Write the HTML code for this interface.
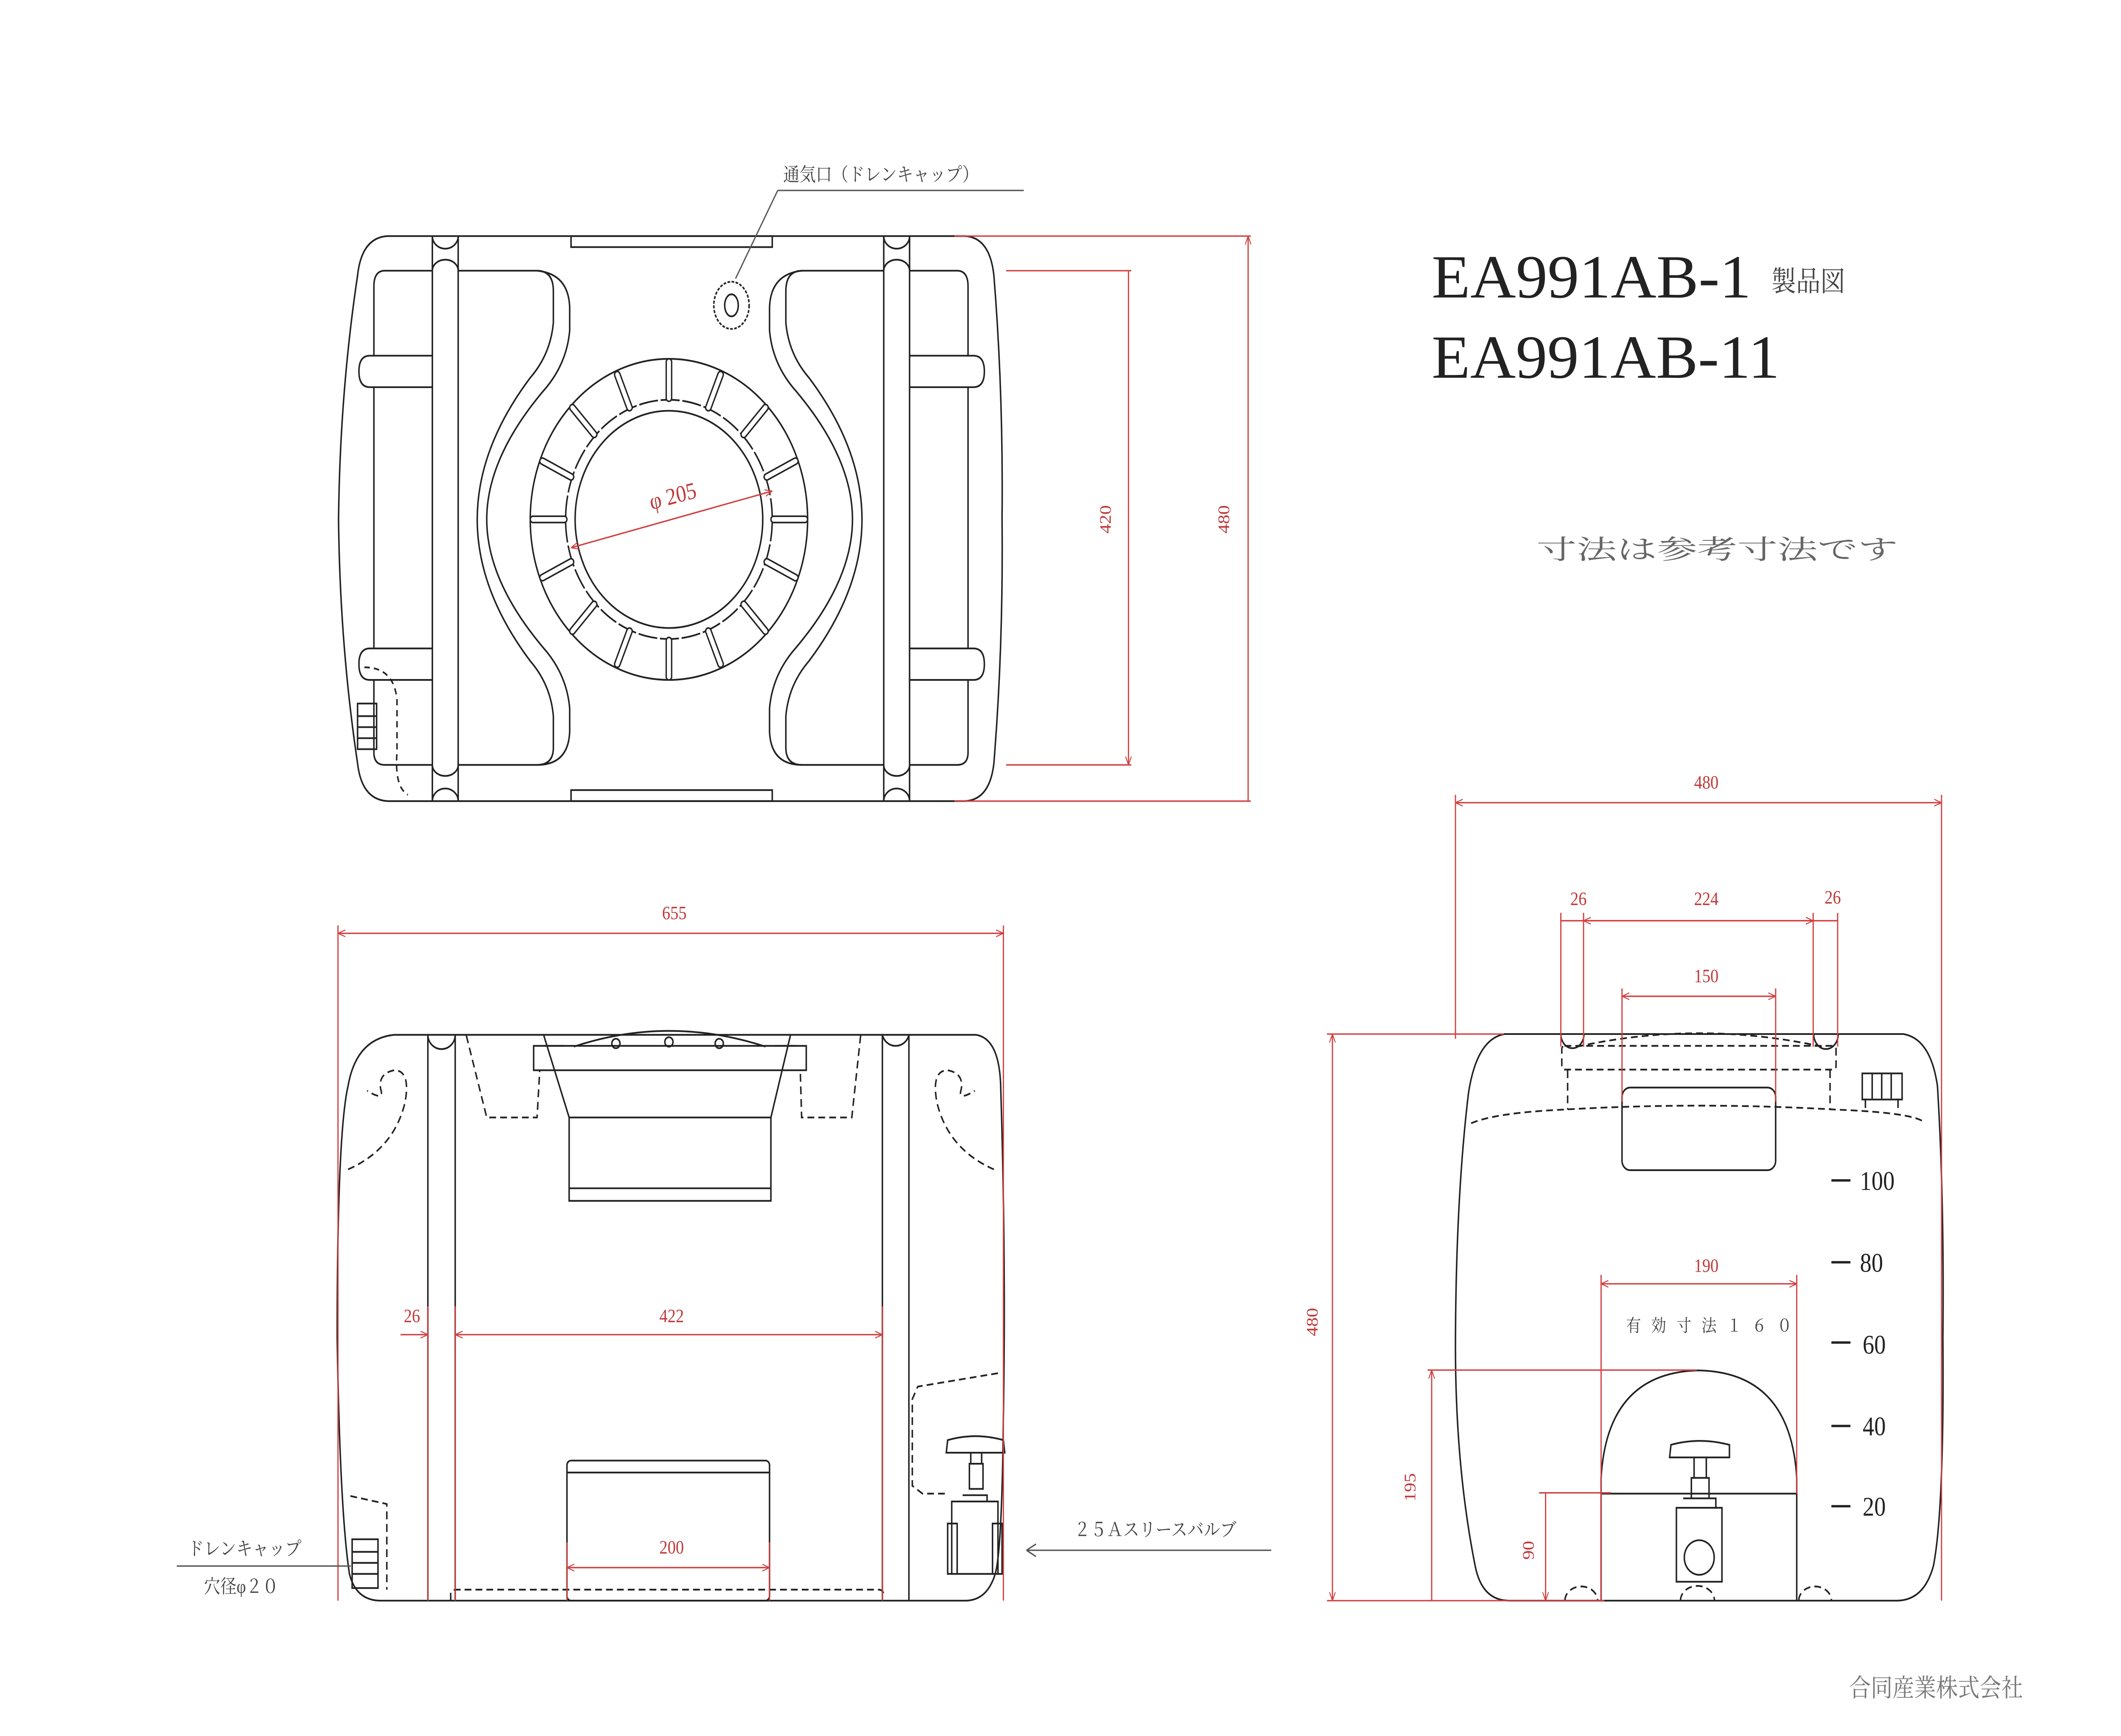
<!DOCTYPE html>
<html><head><meta charset="utf-8"><style>
html,body{margin:0;padding:0;background:#fff;overflow:hidden;width:100%;height:100%;}
svg{display:block;width:100vw;height:100vh;}
text{font-family:"Liberation Serif","Noto Serif CJK JP","Noto Sans CJK JP",serif;}
</style></head><body>
<svg viewBox="0 0 1560 1103" preserveAspectRatio="none" xmlns="http://www.w3.org/2000/svg">
<defs>
<marker id="a" viewBox="0 0 10 10" refX="10" refY="5" markerWidth="6" markerHeight="6" orient="auto-start-reverse"><path d="M0 1 L10 5 L0 9" fill="none" stroke="#d04040" stroke-width="1.2"/></marker>
</defs>
<rect width="1560" height="1103" fill="#fff"/>
<g fill="none" stroke="#222" stroke-width="1.1">
<!-- TOP VIEW -->
<path d="M285 150 H710 Q728 151 731 175 Q738 250 737 330 Q738 410 731 485 Q728 508 710 509 H285 Q266 508 263 485 Q250 410 249 330 Q250 250 263 175 Q266 151 285 150 Z"/>
<path d="M318 150 V509 M337 150 V509 M650 150 V509 M669 150 V509"/>
<path d="M318 150 A9.5 8 0 0 0 337 150 M318 509 A9.5 8 0 0 1 337 509 M650 150 A9.5 8 0 0 0 669 150 M650 509 A9.5 8 0 0 1 669 509"/>
<path d="M318 172 A9.5 7 0 0 1 337 172 M318 486 A9.5 7 0 0 0 337 486 M650 172 A9.5 7 0 0 1 669 172 M650 486 A9.5 7 0 0 0 669 486"/>
<rect x="420" y="150" width="148" height="7"/><rect x="420" y="502" width="148" height="7"/>
<path d="M318 172 H283 Q275 172 275 182 V226 H272 Q264 226 264 236 Q264 246 272 246 H275 V412 H272 Q264 412 264 422 Q264 432 272 432 H275 V478 Q275 486 283 486 H318"/>
<path d="M318 226 H275 M318 246 H275 M318 412 H275 M318 432 H275"/>
<path d="M669 172 H704 Q712 172 712 182 V226 H716 Q724 226 724 236 Q724 246 716 246 H712 V412 H716 Q724 412 724 422 Q724 432 716 432 H712 V478 Q712 486 704 486 H669"/>
<path d="M669 226 H712 M669 246 H712 M669 412 H712 M669 432 H712"/>
<path d="M337 172 H395 Q407 172 407 185 V205 Q405 225 390 240 Q351 285 351 330 Q351 375 390 420 Q405 435 407 455 V475 Q407 486 395 486 H337"/>
<path d="M395 172 Q418 174 419 195 V210 Q417 230 402 246 Q358 290 358 330 Q358 370 402 414 Q417 430 419 450 V465 Q418 486 395 486"/>
<path d="M650 172 H590 Q578 172 578 185 V205 Q580 225 595 240 Q634 285 634 330 Q634 375 595 420 Q580 435 578 455 V475 Q578 486 590 486 H650"/>
<path d="M590 172 Q567 174 566 195 V210 Q568 230 583 246 Q627 290 627 330 Q627 370 583 414 Q568 430 566 450 V465 Q567 486 590 486"/>
<circle cx="492" cy="330" r="102"/><circle cx="492" cy="330" r="69"/>
<circle cx="492" cy="330" r="76" stroke-dasharray="14,2"/>
<g stroke-width="5" stroke-linecap="round" stroke="#222">
<line x1="492" y1="230" x2="492" y2="253" /><line x1="492" y1="407" x2="492" y2="430"/>
<line x1="392" y1="330" x2="415" y2="330"/><line x1="569" y1="330" x2="592" y2="330"/>
<line x1="530" y1="238" x2="521" y2="259"/><line x1="454" y1="238" x2="463" y2="259"/>
<line x1="530" y1="422" x2="521" y2="401"/><line x1="454" y1="422" x2="463" y2="401"/>
<line x1="563" y1="259" x2="547" y2="276"/><line x1="421" y1="259" x2="437" y2="276"/>
<line x1="563" y1="401" x2="547" y2="384"/><line x1="421" y1="401" x2="437" y2="384"/>
<line x1="585" y1="293" x2="564" y2="303"/><line x1="399" y1="293" x2="420" y2="303"/>
<line x1="585" y1="367" x2="564" y2="357"/><line x1="399" y1="367" x2="420" y2="357"/>
</g>
<g stroke="#fff" stroke-width="3" stroke-linecap="round">
<line x1="492" y1="230" x2="492" y2="253" /><line x1="492" y1="407" x2="492" y2="430"/>
<line x1="392" y1="330" x2="415" y2="330"/><line x1="569" y1="330" x2="592" y2="330"/>
<line x1="530" y1="238" x2="521" y2="259"/><line x1="454" y1="238" x2="463" y2="259"/>
<line x1="530" y1="422" x2="521" y2="401"/><line x1="454" y1="422" x2="463" y2="401"/>
<line x1="563" y1="259" x2="547" y2="276"/><line x1="421" y1="259" x2="437" y2="276"/>
<line x1="563" y1="401" x2="547" y2="384"/><line x1="421" y1="401" x2="437" y2="384"/>
<line x1="585" y1="293" x2="564" y2="303"/><line x1="399" y1="293" x2="420" y2="303"/>
<line x1="585" y1="367" x2="564" y2="357"/><line x1="399" y1="367" x2="420" y2="357"/>
</g>
<ellipse cx="538" cy="194" rx="13" ry="15" stroke-dasharray="2,1"/><ellipse cx="538" cy="194" rx="5" ry="7"/>
<rect x="263" y="447" width="14" height="29"/><path d="M263 455 H277 M263 462 H277 M263 469 H277"/>
<path stroke-dasharray="4,3" d="M268 424 Q290 424 292 445 V478 Q290 500 300 505"/>
<!-- FRONT VIEW -->
<path d="M290 657.5 H718 Q735 660 736 690 Q740 800 738 900 Q737 985 732 1000 Q726 1017 710 1017 H280 Q262 1017 257 1000 Q250 960 248 850 Q248 720 256 690 Q262 660 290 657.5 Z"/>
<path d="M314.7 657.5 V1017 M334.8 657.5 V1017 M649 657.5 V1017 M668.5 657.5 V1017"/>
<path d="M314.7 657.5 A10 9 0 0 0 334.8 657.5 M649 657.5 A10 9 0 0 0 668.5 657.5"/>
<rect x="392.5" y="664.5" width="200.5" height="15.5"/>
<path d="M400 658 L418.6 710 V763 H567 V710 L581.3 658 M418.6 755 H567 M418.6 710 H567"/>
<path d="M422 665 Q492 645 563 665 M400 664.5 H415 M570 664.5 H585"/>
<circle cx="453" cy="663" r="3"/><circle cx="492" cy="662" r="3"/><circle cx="529" cy="663" r="3"/>
<rect x="417" y="928" width="149" height="89" rx="3"/><path d="M417 935.6 H566"/>
<g stroke-dasharray="5,3">
<path d="M343 658 L358 710 H395 L397 680"/>
<path d="M633 658 L626.5 710 H589.6 L588.6 680"/>
<path d="M256 743 Q290 730 298 700 Q302 680 290 680 Q278 682 280 692 Q283 700 270 693"/>
<path d="M731 743 Q697 730 689 700 Q685 680 697 680 Q709 682 707 692 Q704 700 717 693"/>
<path d="M734 872.5 L675 881 L671 889 V944 L678.5 949 H697"/>
<path d="M257.7 950.5 L284.5 955.6 V1010"/>
<path d="M331.5 1017 V1012 Q332 1010 336 1010 H646 Q650 1010 650 1014"/>
</g>
<!-- valve front -->
<path d="M696 923 L697 915 Q717 910 738 915 L739 923 Z M714 923 V930 H722 V923 M713 930 H723 V946 H713 Z M700 954 H734 V1000 H700 Z M697 968 H704 V1000 H697 Z M730 968 H737 V1000 H730 Z M708 950 H726 V954"/>
<rect x="259" y="978" width="19" height="31"/><path d="M259 986 H278 M259 993 H278 M259 1000 H278"/>
<!-- SIDE VIEW -->
<path d="M1106.7 657 H1400 Q1420 660 1425 690 Q1430 760 1429 850 Q1430 960 1422 995 Q1415 1017 1395 1017 H1110 Q1090 1017 1085 995 Q1070 930 1070.5 850 Q1071 760 1080 695 Q1086 660 1106.7 657 Z"/>
<rect x="1193" y="691" width="113" height="52.5" rx="6"/>
<rect x="1369.7" y="682" width="29.3" height="16.6"/><path d="M1377 682 V698 M1384 682 V698 M1391 682 V698 M1372 698 V704 M1396 698 V704"/>
<path d="M1177.6 1017 V939 Q1182 872 1249.5 870.7 Q1317 872 1321.5 939 V1017 M1177.6 949 H1321.5"/>
<path d="M1228 926 L1229 918 Q1250 913 1272 918 L1272 926 Z M1246 926 V939 H1255 V926 M1244 939 H1257 V952 H1244 Z M1233 958 H1266.5 V1005 H1233 Z M1238 952 H1262 V958"/>
<circle cx="1249.8" cy="989.6" r="11"/>
<g stroke-dasharray="5,3">
<rect x="1148.7" y="664.5" width="201.7" height="15.1" rx="2"/>
<path d="M1153 680 V705 M1346 680 V705"/>
<path d="M1082 713.7 Q1100 707 1150 705 Q1250 700 1350 705 Q1410 707 1416 713.7"/>
<path d="M1160 665 Q1250 648 1340 665"/>
<path d="M1151 1017 A12 9 0 0 1 1175 1017 M1236 1017 A12 9 0 0 1 1261 1017 M1323 1017 A12 9 0 0 1 1347 1017"/>
</g>
<path d="M1148 657 A8.5 9 0 0 0 1165 657 M1334 657 A8.5 9 0 0 0 1352 657"/>
<path d="M1347 750 H1361 M1347 802 H1361 M1347 853 H1361 M1347 906 H1361 M1347 957 H1361" stroke-width="1.5"/>
</g>
<!-- red dimension lines -->
<g stroke="#d04040" stroke-width="0.9" fill="none">
<path d="M702 150 H920 M702 509 H920 M740 172 H832 M740 486 H832"/>
<path d="M918 150 V509 M830 172 V486" marker-start="url(#a)" marker-end="url(#a)"/>
<path d="M248.6 588 V1017 M738 588 V1017"/>
<path d="M248.6 593 H738" marker-start="url(#a)" marker-end="url(#a)"/>
<path d="M294.6 848 H314.7" marker-end="url(#a)"/>
<path d="M334.8 848 H649" marker-start="url(#a)" marker-end="url(#a)"/>
<path d="M314.7 830 V1017 M334.8 830 V1017 M649 830 V1017 M417 980 V1017 M566 980 V1017"/>
<path d="M417 996 H566" marker-start="url(#a)" marker-end="url(#a)"/>
<path d="M420 348 L568 312" marker-start="url(#a)" marker-end="url(#a)"/>
<path d="M1070.5 505 V660 M1428 505 V1017"/>
<path d="M1070.5 510 H1428" marker-start="url(#a)" marker-end="url(#a)"/>
<path d="M1148 580 V665 M1164.7 580 V665 M1333.6 580 V665 M1351.6 580 V665 M1193 628 V700 M1306 628 V700"/>
<path d="M1148 585 H1351.6"/><path d="M1164.7 585 H1333.6" marker-start="url(#a)" marker-end="url(#a)"/>
<path d="M1193 633 H1306" marker-start="url(#a)" marker-end="url(#a)"/>
<path d="M976 657 H1106 M976 1017 H1180"/>
<path d="M980 657 V1017" marker-start="url(#a)" marker-end="url(#a)"/>
<path d="M1050 870.5 H1248 M1132 948.5 H1185"/>
<path d="M1053 870.5 V1017 M1136.8 948.5 V1017" marker-start="url(#a)" marker-end="url(#a)"/>
<path d="M1177.6 810 V1017 M1321.5 810 V949"/>
<path d="M1177.6 815.7 H1321.5" marker-start="url(#a)" marker-end="url(#a)"/>
</g>
<g stroke="#555" stroke-width="0.9" fill="none">
<path d="M572 121 H753 M572 121 L541 177"/>
<path d="M130 995 H245 L258 995"/>
<path d="M755 985 H935 M755 985 L762 981 M755 985 L762 989"/>
</g>
<!-- red text -->
<g fill="#c03838" font-size="12" text-anchor="middle">
<text x="496" y="584">655</text><text x="303" y="840">26</text><text x="494" y="840">422</text>
<text x="494" y="987">200</text><text x="1255" y="501">480</text>
<text x="1161" y="575">26</text><text x="1255" y="575">224</text><text x="1348" y="574">26</text>
<text x="1255" y="624">150</text><text x="1255" y="808">190</text>
<text x="496" y="320" font-size="15" transform="rotate(-13 496 320)">φ 205</text>
<text transform="translate(817 330) rotate(-90)">420</text>
<text transform="translate(904 330) rotate(-90)">480</text>
<text transform="translate(969 840) rotate(-90)">480</text>
<text transform="translate(1041 945) rotate(-90)">195</text>
<text transform="translate(1128 985) rotate(-90)">90</text>
</g>
<g fill="#222">
<text x="1053" y="189" font-size="39" textLength="235" lengthAdjust="spacingAndGlyphs">EA991AB-1</text>
<text x="1303" y="185" font-size="18" fill="#444">製品図</text>
<text x="1053" y="240" font-size="39" textLength="256" lengthAdjust="spacingAndGlyphs">EA991AB-11</text>
<text x="1130" y="355" font-size="17" fill="#666" textLength="266" lengthAdjust="spacingAndGlyphs">寸法は参考寸法です</text>
<text x="576" y="115" font-size="12" fill="#444">通気口（ドレンキャップ）</text>
<text x="138" y="988" font-size="12" fill="#444">ドレンキャップ</text>
<text x="150" y="1012" font-size="12" fill="#444">穴径φ２０</text>
<text x="790" y="976" font-size="12" fill="#444">２５Ａスリースバルブ</text>
<text x="1196" y="846" font-size="11" fill="#444" textLength="122" lengthAdjust="spacing">有効寸法１６０</text>
<g font-size="17"><text x="1368" y="756">100</text><text x="1368" y="808">80</text><text x="1370" y="860">60</text><text x="1370" y="912">40</text><text x="1370" y="963">20</text></g>
<text x="1360" y="1078" font-size="16" fill="#777" font-family="Liberation Sans,Noto Sans CJK JP,sans-serif">合同産業株式会社</text>
</g>
</svg>
</body></html>
